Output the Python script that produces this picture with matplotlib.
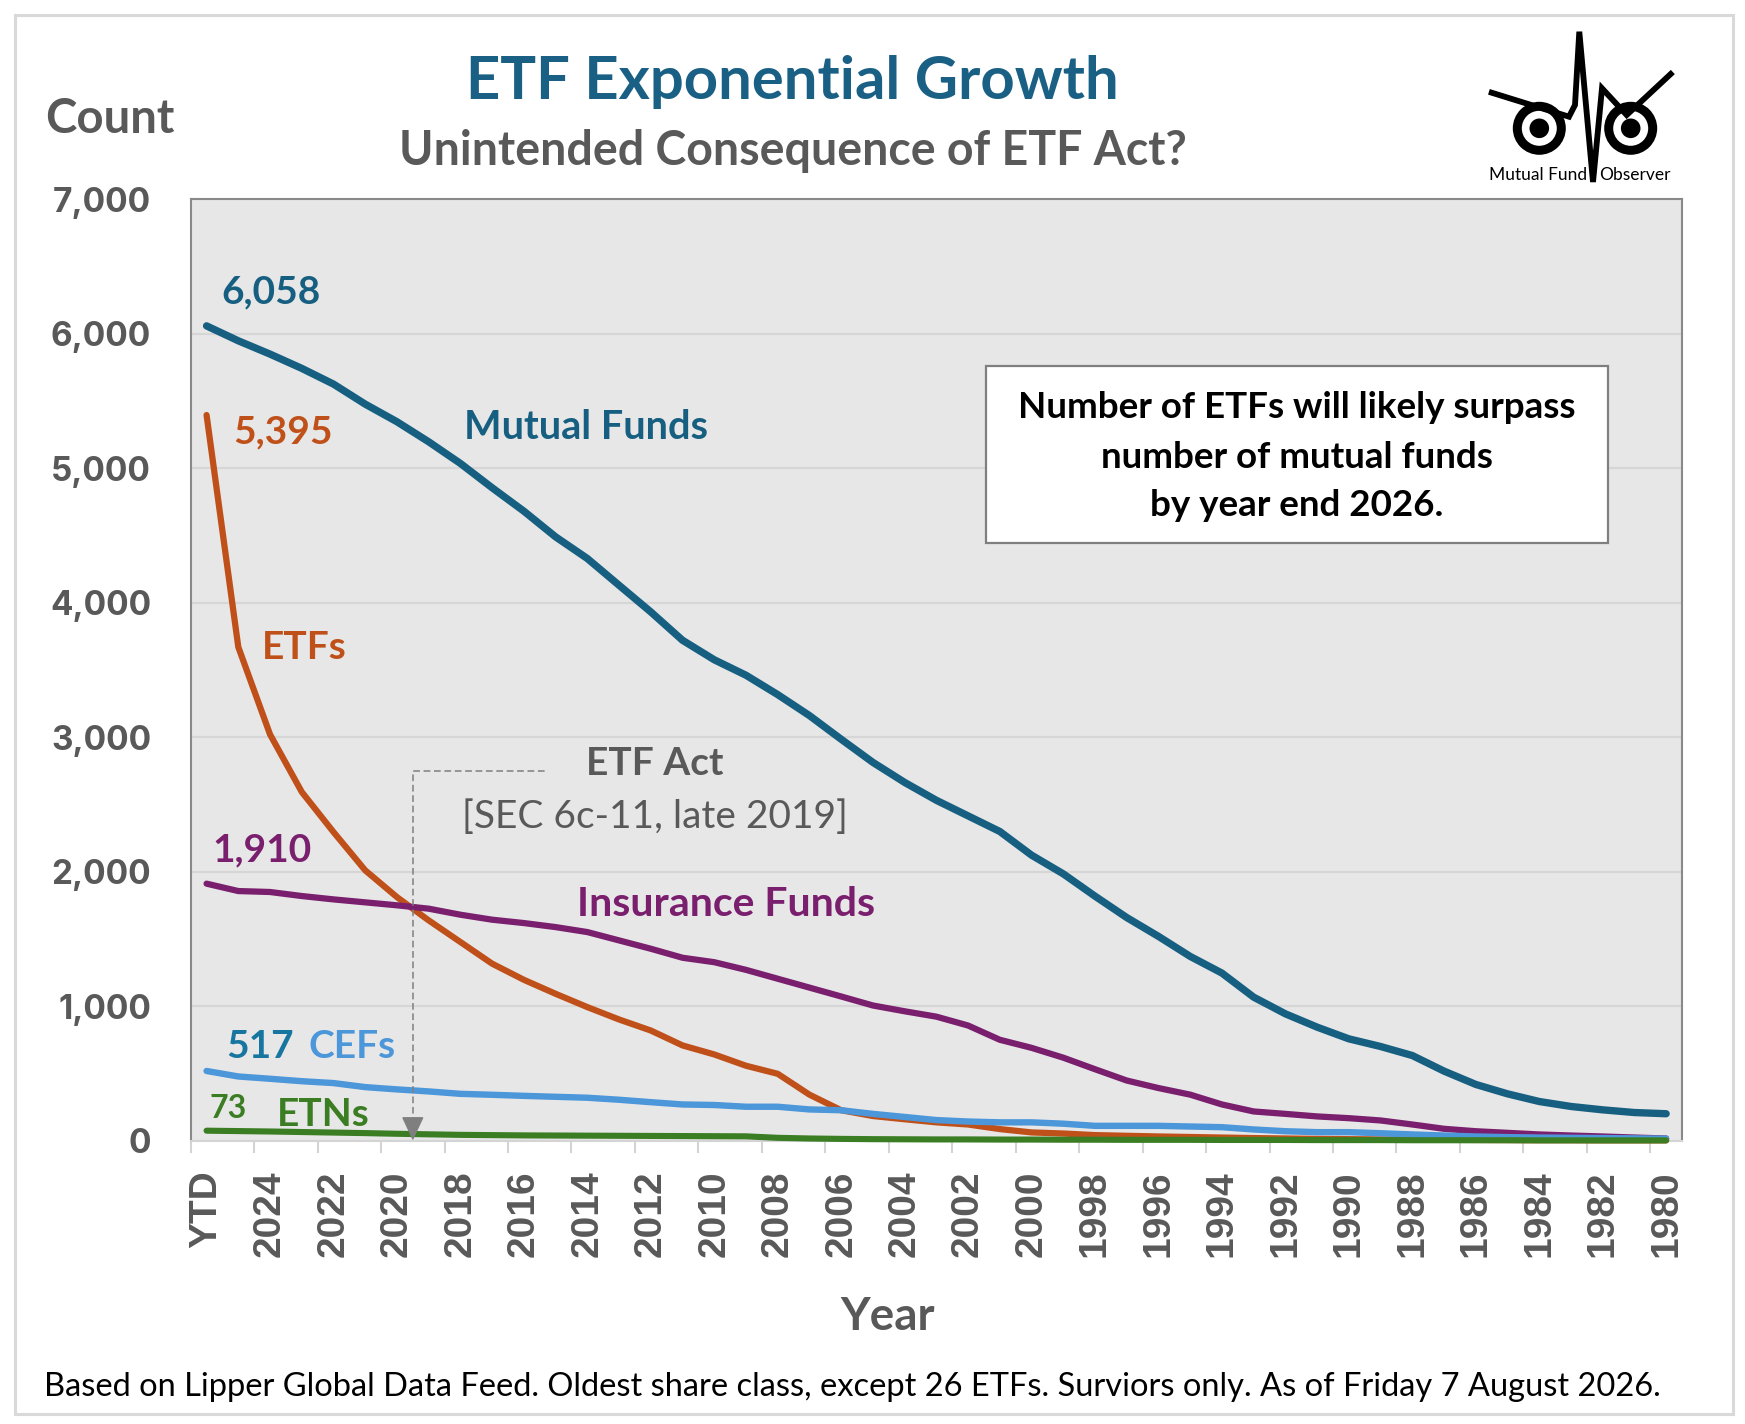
import matplotlib
matplotlib.use("Agg")
import matplotlib.pyplot as plt
from matplotlib.lines import Line2D
from matplotlib.patches import Rectangle, Ellipse

plt.rcParams['font.family'] = ['Lato', 'DejaVu Sans']

# categories: YTD then 2025 ... 1980
years = ["YTD"] + [str(y) for y in range(2025, 1979, -1)]

mutual = [6058, 5947, 5848, 5742, 5625, 5476, 5345, 5196, 5035, 4854, 4680, 4489,
          4328, 4129, 3931, 3720, 3575, 3460, 3316, 3160, 2984, 2812, 2663, 2530,
          2414, 2298, 2122, 1983, 1817, 1658, 1518, 1369, 1245, 1066, 942, 843,
          756, 699, 632, 516, 417, 347, 290, 253, 228, 208, 199]
etfs = [5395, 3670, 3020, 2592, 2294, 2009, 1810, 1637, 1476, 1315, 1195, 1091,
        992, 900, 818, 707, 640, 556, 496, 341, 225, 182, 158, 135,
        119, 85, 60, 52, 40, 35, 30, 26, 22, 18, 15, 12,
        10, 8, 6, 5, 4, 3, 2, 2, 1, 1, 1]
insurance = [1910, 1855, 1848, 1818, 1793, 1771, 1749, 1724, 1679, 1642, 1617, 1587,
             1550, 1488, 1426, 1359, 1326, 1269, 1203, 1137, 1071, 1004, 961, 921,
             855, 749, 689, 616, 530, 446, 390, 341, 268, 216, 198, 179,
             166, 149, 119, 87, 69, 57, 45, 37, 30, 22, 15]
cefs = [517, 476, 459, 441, 427, 397, 380, 365, 347, 340, 332, 325,
        318, 303, 285, 268, 264, 251, 251, 231, 225, 198, 175, 152,
        141, 135, 135, 125, 109, 109, 109, 104, 99, 82, 69, 62,
        62, 54, 45, 37, 30, 25, 22, 20, 18, 16, 14]
etns = [73, 70, 67, 63, 59, 55, 50, 46, 42, 40, 38, 37,
        36, 35, 34, 33, 32, 31, 20, 15, 12, 10, 9, 8,
        8, 7, 7, 6, 6, 5, 5, 5, 4, 4, 4, 3,
        3, 3, 2, 2, 2, 2, 1, 1, 1, 1, 1]

c_mf = '#175F81'
c_etf = '#C0501A'
c_ins = '#7A1E6E'
c_cef = '#4C96DA'
c_cef_num = '#1776A0'
c_etn = '#3B7D23'
gray = '#595959'

W, H = 1745, 1424
fig = plt.figure(figsize=(W / 100, H / 100), dpi=100)


def fx(x):
    return x / W


def fy(y):
    return 1 - y / H


ax = fig.add_axes([fx(190.7), fy(1140.5), (1682 - 190.7) / W, (1140.5 - 199.2) / H])
ax.set_facecolor('#E7E7E7')

x = list(range(len(years)))
ax.plot(x, mutual, color=c_mf, lw=5.3, solid_capstyle='round', clip_on=False, zorder=3)
ax.plot(x, etfs, color=c_etf, lw=4.5, solid_capstyle='round', clip_on=False, zorder=3)
ax.plot(x, insurance, color=c_ins, lw=4.5, solid_capstyle='round', clip_on=False, zorder=3)
ax.plot(x, cefs, color=c_cef, lw=4.6, solid_capstyle='round', clip_on=False, zorder=3)
ax.plot(x, etns, color=c_etn, lw=4.4, solid_capstyle='round', clip_on=False, zorder=3)

ax.set_xlim(-0.5, len(years) - 0.5)
ax.set_ylim(0, 7000)
ax.set_yticks(range(0, 7001, 1000))
ax.set_yticklabels([f"{v:,}" for v in range(0, 7001, 1000)], fontsize=24,
                   fontweight='bold', color=gray, family=['Inter', 'DejaVu Sans'])
ax.tick_params(axis='y', length=0, pad=28.5)

ax.set_xticks(x[::2])
ax.set_xticklabels(years[::2], rotation=90, fontsize=28, fontweight='bold',
                   color=gray, family='Liberation Sans')
ax.set_xticks([i - 0.5 for i in range(0, len(years), 2)], minor=True)
ax.tick_params(axis='x', which='major', length=0, pad=21.5)
ax.tick_params(axis='x', which='minor', length=8.6, width=1.5, color='#D4D4D4')

ax.yaxis.grid(True, color='#D6D6D6', lw=1.6)
ax.set_axisbelow(True)
for side in ['left', 'top', 'right']:
    ax.spines[side].set_color('#898989')
    ax.spines[side].set_linewidth(1.5)
ax.spines['bottom'].set_color('#D4D4D4')
ax.spines['bottom'].set_linewidth(1.5)

# ETF Act marker (late 2019, between 2020 and 2019)
act_x = 6.5
ax.plot([act_x, act_x, 10.67], [120, 2748, 2748], color='#7F7F7F', lw=1.1,
        ls=(0, (4.4, 2.4)), zorder=4)
ax.annotate('', xy=(act_x, 0), xytext=(act_x, 160),
            arrowprops=dict(arrowstyle='-|>,head_length=0.75,head_width=0.35',
                            color='#7F7F7F', lw=1.1, shrinkA=0, shrinkB=0,
                            mutation_scale=20), zorder=4)

# titles
fig.text(fx(792.6), fy(99.3), "ETF Exponential Growth", ha='center', va='baseline',
         fontsize=43, fontweight='bold', color='#1A6085')
fig.text(fx(792.7), fy(165), "Unintended Consequence of ETF Act?", ha='center',
         va='baseline', fontsize=33.5, fontweight='bold', color=gray)
fig.text(fx(45), fy(133.3), "Count", ha='left', va='baseline', fontsize=34,
         fontweight='bold', color=gray)
fig.text(fx(888), fy(1330), "Year", ha='center', va='baseline', fontsize=33,
         fontweight='bold', color=gray)
fig.text(fx(44), fy(1395.7),
         "Based on Lipper Global Data Feed. Oldest share class, except 26 ETFs. "
         "Surviors only. As of Friday 7 August 2026.",
         ha='left', va='baseline', fontsize=23.5, color='black')

# series labels
def lab(xp, yp, s, color, size=28, ha='left', weight='bold'):
    fig.text(fx(xp), fy(yp), s, ha=ha, va='baseline', fontsize=size,
             fontweight=weight, color=color)


lab(221.7, 303.3, f"{mutual[0]:,}", c_mf)
lab(464, 439.3, "Mutual Funds", c_mf, size=28.5)
lab(233, 443.3, f"{etfs[0]:,}", c_etf)
lab(261.7, 659.3, "ETFs", c_etf)
lab(212.7, 861.7, f"{insurance[0]:,}", c_ins)
lab(576.7, 916, "Insurance Funds", c_ins, size=29.5)
lab(226, 1058.3, f"{cefs[0]:,}", c_cef_num)
lab(308.3, 1058.3, "CEFs", c_cef)
lab(209.3, 1118.3, f"{etns[0]:,}", c_etn, size=23)
lab(277.3, 1126, "ETNs", c_etn)
lab(655, 775, "ETF Act", gray, ha='center')
lab(655, 828.3, "[SEC 6c-11, late 2019]", gray, ha='center', weight='normal')

# callout box
fig.add_artist(Rectangle((fx(986), fy(543)), (1608 - 986) / W, (543 - 366) / H,
                         transform=fig.transFigure, facecolor='white',
                         edgecolor='#7F7F7F', lw=1.6, zorder=5))
for yb, s in [(418, "Number of ETFs will likely surpass"),
              (468, "number of mutual funds"),
              (515.5, "by year end 2026.")]:
    fig.text(fx(1297), fy(yb), s, ha='center', va='baseline', fontsize=26.5,
             fontweight='bold', color='black', zorder=6)

# logo (Mutual Fund Observer)
def eye(cx, cy):
    for r, c in [(26.5, 'black'), (17.5, 'white'), (9.8, 'black')]:
        fig.add_artist(Ellipse((fx(cx), fy(cy)), 2 * r / W, 2 * r / H,
                               transform=fig.transFigure, facecolor=c,
                               edgecolor='none', zorder=7))


eye(1539.3, 128.3)
eye(1630.7, 128.3)
pts = [(1491.7, 92.7), (1569, 116.7), (1575, 105), (1579.3, 31.7), (1593, 182),
       (1602, 88.3), (1626.7, 115), (1670.7, 74)]
fig.add_artist(Line2D([fx(p[0]) for p in pts], [fy(p[1]) for p in pts],
                      transform=fig.transFigure, color='black', lw=4.2,
                      solid_joinstyle='miter', zorder=8))
fig.text(fx(1587), fy(180), "Mutual Fund", ha='right', va='baseline', fontsize=12.5,
         color='black', zorder=8)
fig.text(fx(1599), fy(180), "Observer", ha='left', va='baseline', fontsize=12.5,
         color='black', zorder=8)

# outer frame
fig.add_artist(Rectangle((fx(15), fy(1414)), (1733 - 15) / W, (1414 - 15) / H,
                         transform=fig.transFigure, facecolor='none',
                         edgecolor='#D9D9D9', lw=2.2, zorder=0))

fig.savefig('out.png', dpi=100, facecolor='white')
